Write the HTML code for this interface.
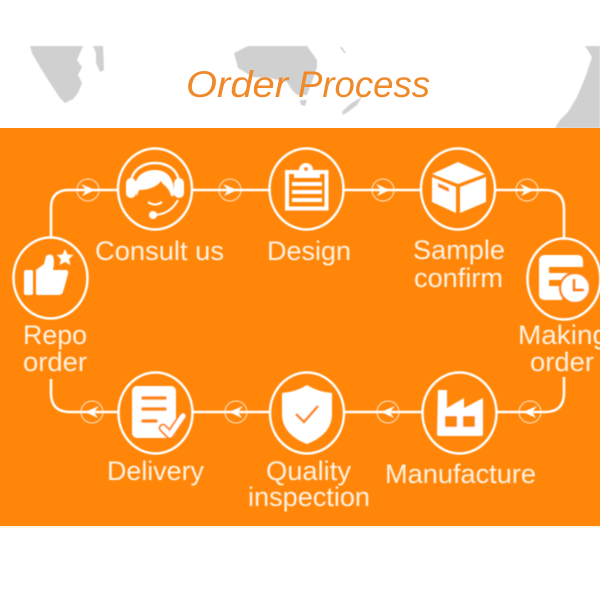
<!DOCTYPE html>
<html>
<head>
<meta charset="utf-8">
<style>
html,body{margin:0;padding:0;background:#fff;width:600px;height:600px;overflow:hidden}
svg{display:block}
text{font-family:"Liberation Sans",sans-serif;fill:#fff2e2;font-size:27px}
</style>
</head>
<body>
<svg width="600" height="600" viewBox="0 0 600 600" xmlns="http://www.w3.org/2000/svg">
<defs>
<filter id="s" x="-5%" y="-5%" width="110%" height="110%"><feGaussianBlur stdDeviation="0.45"/></filter>
<g id="ar"><circle r="11" fill="none" stroke="#fff" stroke-opacity=".8" stroke-width="1"/><path d="M-7-6 L7 0 L-6 6 L-2 0Z" fill="#fff"/></g>
<g id="al"><circle r="11" fill="none" stroke="#fff" stroke-opacity=".8" stroke-width="1"/><path d="M7-6 L-7 0 L6 6 L2 0Z" fill="#fff"/></g>
</defs>
<rect width="600" height="600" fill="#fff"/>
<g fill="#d0d0d0" filter="url(#s)">
<path d="M30 46 H83 L77 60 L82 67 L78 75 L82 83 L78 93 L73 99 L65 103 L60 98 L50 83 L40 67 L32 53Z"/>
<path d="M93 46 H103 L104 70 L100 72 L96 63 L96 53Z"/>
<path d="M248 46 H307 L317 60 L317 67 L312 82 L307 95 L297 95 L292 90 L287 82 L270 78 L253 77 L238 68 L234 53Z"/>
<path d="M300 100 L307 100 L305 106 L301 105Z"/>
<path d="M362 97 L357 105 L349 111 L343 115 L342 112 L348 106 L353 102Z"/>
<path d="M340 47 L342 47 L346 53 L344 53Z"/>
<path d="M585 46 H600 V128 H555 L560 120 L568 112 L577 97 L585 78 L592 57Z"/>
</g>
<text x="186" y="97" font-style="italic" textLength="102" lengthAdjust="spacingAndGlyphs" style="font-size:37px;fill:#f0892a">Order</text>
<text x="298" y="97" font-style="italic" textLength="132" lengthAdjust="spacingAndGlyphs" style="font-size:37px;fill:#f0892a">Process</text>
<rect y="128" width="600" height="398" fill="#ff8609"/>
<rect y="526" width="600" height="2" fill="#fff3e2"/>
<g filter="url(#s)">
<g fill="none" stroke="#fff" stroke-width="2.5">
<path d="M51 237 V208 Q51 190 69 190 H118"/>
<path d="M192 190 H269"/>
<path d="M344 190 H421"/>
<path d="M495 190 H545 Q564 190 564 209 V238"/>
<path d="M564 377 V393 Q564 412 545 412 H497"/>
<path d="M422 412 H345"/>
<path d="M269 412 H193"/>
<path d="M118 412 H70 Q51 412 51 393 V379"/>
<ellipse cx="155" cy="189" rx="37" ry="40.5"/>
<ellipse cx="306.500" cy="189" rx="37" ry="40.5"/>
<ellipse cx="458" cy="189" rx="37" ry="40.5"/>
<ellipse cx="564" cy="279" rx="36.500" ry="40.5"/>
<ellipse cx="50.500" cy="278" rx="37" ry="40.5"/>
<ellipse cx="155.500" cy="413" rx="37" ry="40.5"/>
<ellipse cx="307" cy="413" rx="37" ry="40.5"/>
<ellipse cx="459.500" cy="413" rx="37" ry="40.5"/>
</g>
<use href="#ar" x="88" y="190"/>
<use href="#ar" x="230" y="190"/>
<use href="#ar" x="383" y="190"/>
<use href="#ar" x="527" y="190"/>
<use href="#al" x="92" y="412"/>
<use href="#al" x="236" y="412"/>
<use href="#al" x="388" y="412"/>
<use href="#al" x="530" y="412"/>

<!-- headset -->
<g>
<path d="M131 181 C133 169 144 163 155 163 C167 163 177 169 179 181" fill="none" stroke="#fff" stroke-width="2.500"/>
<rect x="126" y="178" width="10" height="20" rx="5" fill="#fff"/>
<rect x="174" y="178" width="10" height="20" rx="5" fill="#fff"/>
<path d="M135 190 C134 176 144 170 155 170 C167 170 175 178 174 196 L171 196 C170 191 167 187 163 184 L161 181 C157 187 148 190 139 190 L137 196Z" fill="#fff"/>
<path d="M148 202 Q155 207 162 202" fill="none" stroke="#fff" stroke-width="2"/>
<path d="M153 215 C163 215 172 211 178 200" fill="none" stroke="#fff" stroke-width="2"/>
<circle cx="153" cy="215" r="4" fill="#fff"/>
</g>
<!-- clipboard -->
<g>
<path d="M287 172 H326.500 V208.500 H287Z" fill="none" stroke="#fff" stroke-width="4"/>
<path d="M294 170 H299 A7 7 0 0 1 313 170 H320 V178 H294Z" fill="#fff"/>
<circle cx="306" cy="169" r="2" fill="#ff8609"/>
<rect x="292" y="182" width="30" height="4" fill="#fff"/>
<rect x="292" y="190" width="30" height="4" fill="#fff"/>
<rect x="292" y="198" width="30" height="4" fill="#fff"/>
</g>
<!-- box -->
<g fill="#fff">
<path d="M458 162 L485 174 L458 184 L432 174Z"/>
<path d="M432 177 L456 187 V213 L432 202Z"/>
<path d="M460 187 L486 177 V202 L460 213Z"/>
</g>
<path d="M438 183 L449 188 V192 L438 187Z" fill="#ff8609"/>
<!-- making order -->
<g>
<path d="M545 255 H578 Q583 255 583 262 V267 H549 V273 H568 V280 H549 V286 H562 V300 H545 Q539 300 539 294 V261 Q539 255 545 255Z" fill="#fff"/>
<circle cx="575" cy="288" r="15" fill="#fff" stroke="#ff8609" stroke-width="2.500"/>
<path d="M574 279 V290 H584" fill="none" stroke="#ff8609" stroke-width="3"/>
</g>
<!-- thumb -->
<g fill="#fff">
<rect x="24" y="270" width="9" height="25" rx="2"/>
<path d="M36 270 L44 264 L46 256 Q50 253 53 256 Q55 262 53 270 H66 Q69 270 68 274 L63 292 Q62 295 58 295 H38 Q36 295 36 293Z"/>
<path d="M65 249 L67.500 254.500 L73.500 255 L69 259 L70.500 265 L65 262 L59.500 265 L61 259 L56.500 255 L62.500 254.500Z"/>
</g>
<!-- delivery -->
<g>
<rect x="132" y="386" width="44" height="52" rx="5" fill="#fff"/>
<g stroke="#ff8609" stroke-width="3.500" stroke-linecap="round">
<line x1="143" y1="398" x2="165" y2="398"/>
<line x1="143" y1="409" x2="165" y2="409"/>
<line x1="143" y1="421" x2="156" y2="421"/>
</g>
<path d="M163 428 L170 435 L183 416" fill="none" stroke="#ff8609" stroke-width="9" stroke-linecap="round" stroke-linejoin="round"/>
<path d="M163 428 L170 435 L183 416" fill="none" stroke="#fff" stroke-width="5" stroke-linecap="round" stroke-linejoin="round"/>
</g>
<!-- shield -->
<g>
<path d="M307 385 Q318 392 332 393 V414 C332 430 320 439 307 444 C294 439 282 430 282 414 V393 Q296 392 307 385Z" fill="#fff"/>
<path d="M296 414 L304 422 L318 406" fill="none" stroke="#ff8609" stroke-width="2.500"/>
</g>
<!-- factory -->
<g>
<path d="M438 390 H447 V408 L464 398 V408 L483 398 V434 Q483 436 481 436 H439 Q437 436 437 434Z" fill="#fff"/>
<rect x="445" y="416" width="12" height="11" rx="1" fill="#ff8609"/>
<rect x="463" y="416" width="12" height="11" rx="1" fill="#ff8609"/>
</g>

<text x="95" y="260" textLength="129" lengthAdjust="spacingAndGlyphs">Consult us</text>
<text x="267" y="260" textLength="84" lengthAdjust="spacingAndGlyphs">Design</text>
<text x="413" y="259" textLength="92" lengthAdjust="spacingAndGlyphs">Sample</text>
<text x="414" y="287" textLength="89" lengthAdjust="spacingAndGlyphs">confirm</text>
<text x="23" y="344" textLength="64" lengthAdjust="spacingAndGlyphs">Repo</text>
<text x="23" y="371" textLength="64" lengthAdjust="spacingAndGlyphs">order</text>
<text x="518" y="344" textLength="90" lengthAdjust="spacingAndGlyphs">Making</text>
<text x="530" y="371" textLength="64" lengthAdjust="spacingAndGlyphs">order</text>
<text x="107" y="480" textLength="97" lengthAdjust="spacingAndGlyphs">Delivery</text>
<text x="266" y="480" textLength="85" lengthAdjust="spacingAndGlyphs">Quality</text>
<text x="248" y="506" textLength="122" lengthAdjust="spacingAndGlyphs">inspection</text>
<text x="385" y="483" textLength="151" lengthAdjust="spacingAndGlyphs">Manufacture</text>
</g>
</svg>
</body>
</html>
